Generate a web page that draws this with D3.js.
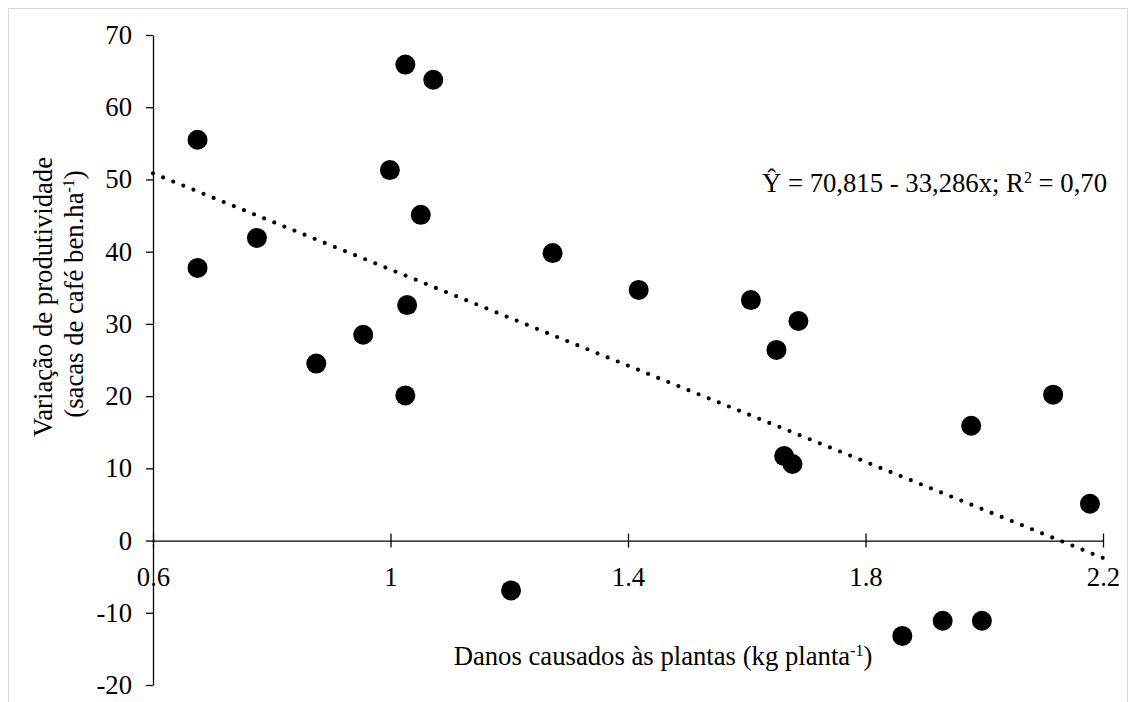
<!DOCTYPE html>
<html>
<head>
<meta charset="utf-8">
<script src="https://cdn.jsdelivr.net/npm/d3@7"></script>
<style>
  body { margin: 0; background: #fff; }
  text { font-family: "Liberation Serif", "Times New Roman", serif; fill: #000; }
</style>
</head>
<body>
<div id="chart"></div>
<script>
// damage (kg per plant) and productivity change
const danos = [1.025, 1.072, 0.675, 0.999, 1.051, 0.775, 0.675, 1.028, 0.954, 0.875,
               1.025, 1.273, 1.418, 1.607, 1.650, 1.687, 1.203, 1.663, 1.677, 2.116,
               1.978, 2.178, 1.862, 1.930, 1.996];
const variacao = [65.9, 63.8, 55.5, 51.3, 45.1, 41.9, 37.75, 32.6, 28.5, 24.5,
                  20.1, 39.8, 34.7, 33.3, 26.4, 30.4, -6.9, 11.7, 10.6, 20.2,
                  15.9, 5.1, -13.2, -11.1, -11.1];
const xTicks = [0.6, 1, 1.4, 1.8, 2.2];
const yTicks = [-20, -10, 0, 10, 20, 30, 40, 50, 60, 70];
const coefA = 70.815, coefB = -33.286;

const width = 1136, height = 702;
const fs = '26.7px', supFs = '16px';
const svg = d3.select('#chart').append('svg')
    .attr('width', width)
    .attr('height', height);

// chart area border
svg.append('rect')
    .attr('x', 8.5).attr('y', 8.5)
    .attr('width', 1119).attr('height', 720)
    .attr('fill', 'none')
    .attr('stroke', '#d9d9d9');

const x = d3.scaleLinear().domain([0.6, 2.2]).range([153, 1103]);
const y = d3.scaleLinear().domain([-20, 70]).range([685, 35]);

const data = danos.map((d, i) => ({ x: d, y: variacao[i] }));

// y axis
const yAxis = svg.append('g')
    .attr('transform', `translate(${x(0.6)},0)`)
    .call(d3.axisLeft(y).tickValues(yTicks).tickSize(7).tickSizeOuter(0).tickPadding(14)
        .tickFormat(d => String(d)));
yAxis.selectAll('text').style('font-size', fs);

// x axis at y = 0, ticks crossing the line
const xAxis = svg.append('g')
    .attr('transform', `translate(0,${y(0)})`)
    .call(d3.axisBottom(x).tickValues(xTicks).tickSize(7).tickSizeOuter(0).tickPadding(19)
        .tickFormat(d => String(d)));
xAxis.selectAll('.tick line').attr('y1', -7);
xAxis.selectAll('text').style('font-size', fs);
svg.selectAll('.domain, .tick line').attr('stroke', '#000').attr('stroke-width', 1.3);

// trend line
const line = d3.line().x(d => x(d)).y(d => y(coefA + coefB * d));
svg.append('path')
    .datum([0.6, 2.2])
    .attr('d', line)
    .attr('fill', 'none')
    .attr('stroke', '#000')
    .attr('stroke-width', 4.2)
    .attr('stroke-linecap', 'round')
    .attr('stroke-dasharray', '0 10.9');

svg.selectAll('.pt')
    .data(data)
    .enter().append('circle')
    .attr('class', 'pt')
    .attr('cx', d => x(d.x))
    .attr('cy', d => y(d.y))
    .attr('r', 10)
    .attr('fill', '#000');

// equation
const eq = svg.append('text')
    .attr('x', 762).attr('y', 192)
    .style('font-size', fs);
eq.append('tspan').text('Ŷ = 70,815 - 33,286x; R');
eq.append('tspan').attr('dy', -9).style('font-size', supFs).text('2');
eq.append('tspan').attr('dy', 9).text(' = 0,70');

// x label
const xl = svg.append('text')
    .attr('x', 663).attr('y', 665)
    .attr('text-anchor', 'middle')
    .style('font-size', fs);
xl.append('tspan').text('Danos causados às plantas (kg planta');
xl.append('tspan').attr('dy', -9).style('font-size', supFs).text('-1');
xl.append('tspan').attr('dy', 9).text(')');

// y label, two lines
const yl = svg.append('text')
    .attr('transform', 'translate(52,297) rotate(-90)')
    .attr('text-anchor', 'middle')
    .style('font-size', fs);
yl.append('tspan').text('Variação de produtividade');
const yl2 = svg.append('text')
    .attr('transform', 'translate(83,294) rotate(-90)')
    .attr('text-anchor', 'middle')
    .style('font-size', fs);
yl2.append('tspan').text('(sacas de café ben.ha');
yl2.append('tspan').attr('dy', -9).style('font-size', supFs).text('-1');
yl2.append('tspan').attr('dy', 9).text(')');
</script>
</body>
</html>
